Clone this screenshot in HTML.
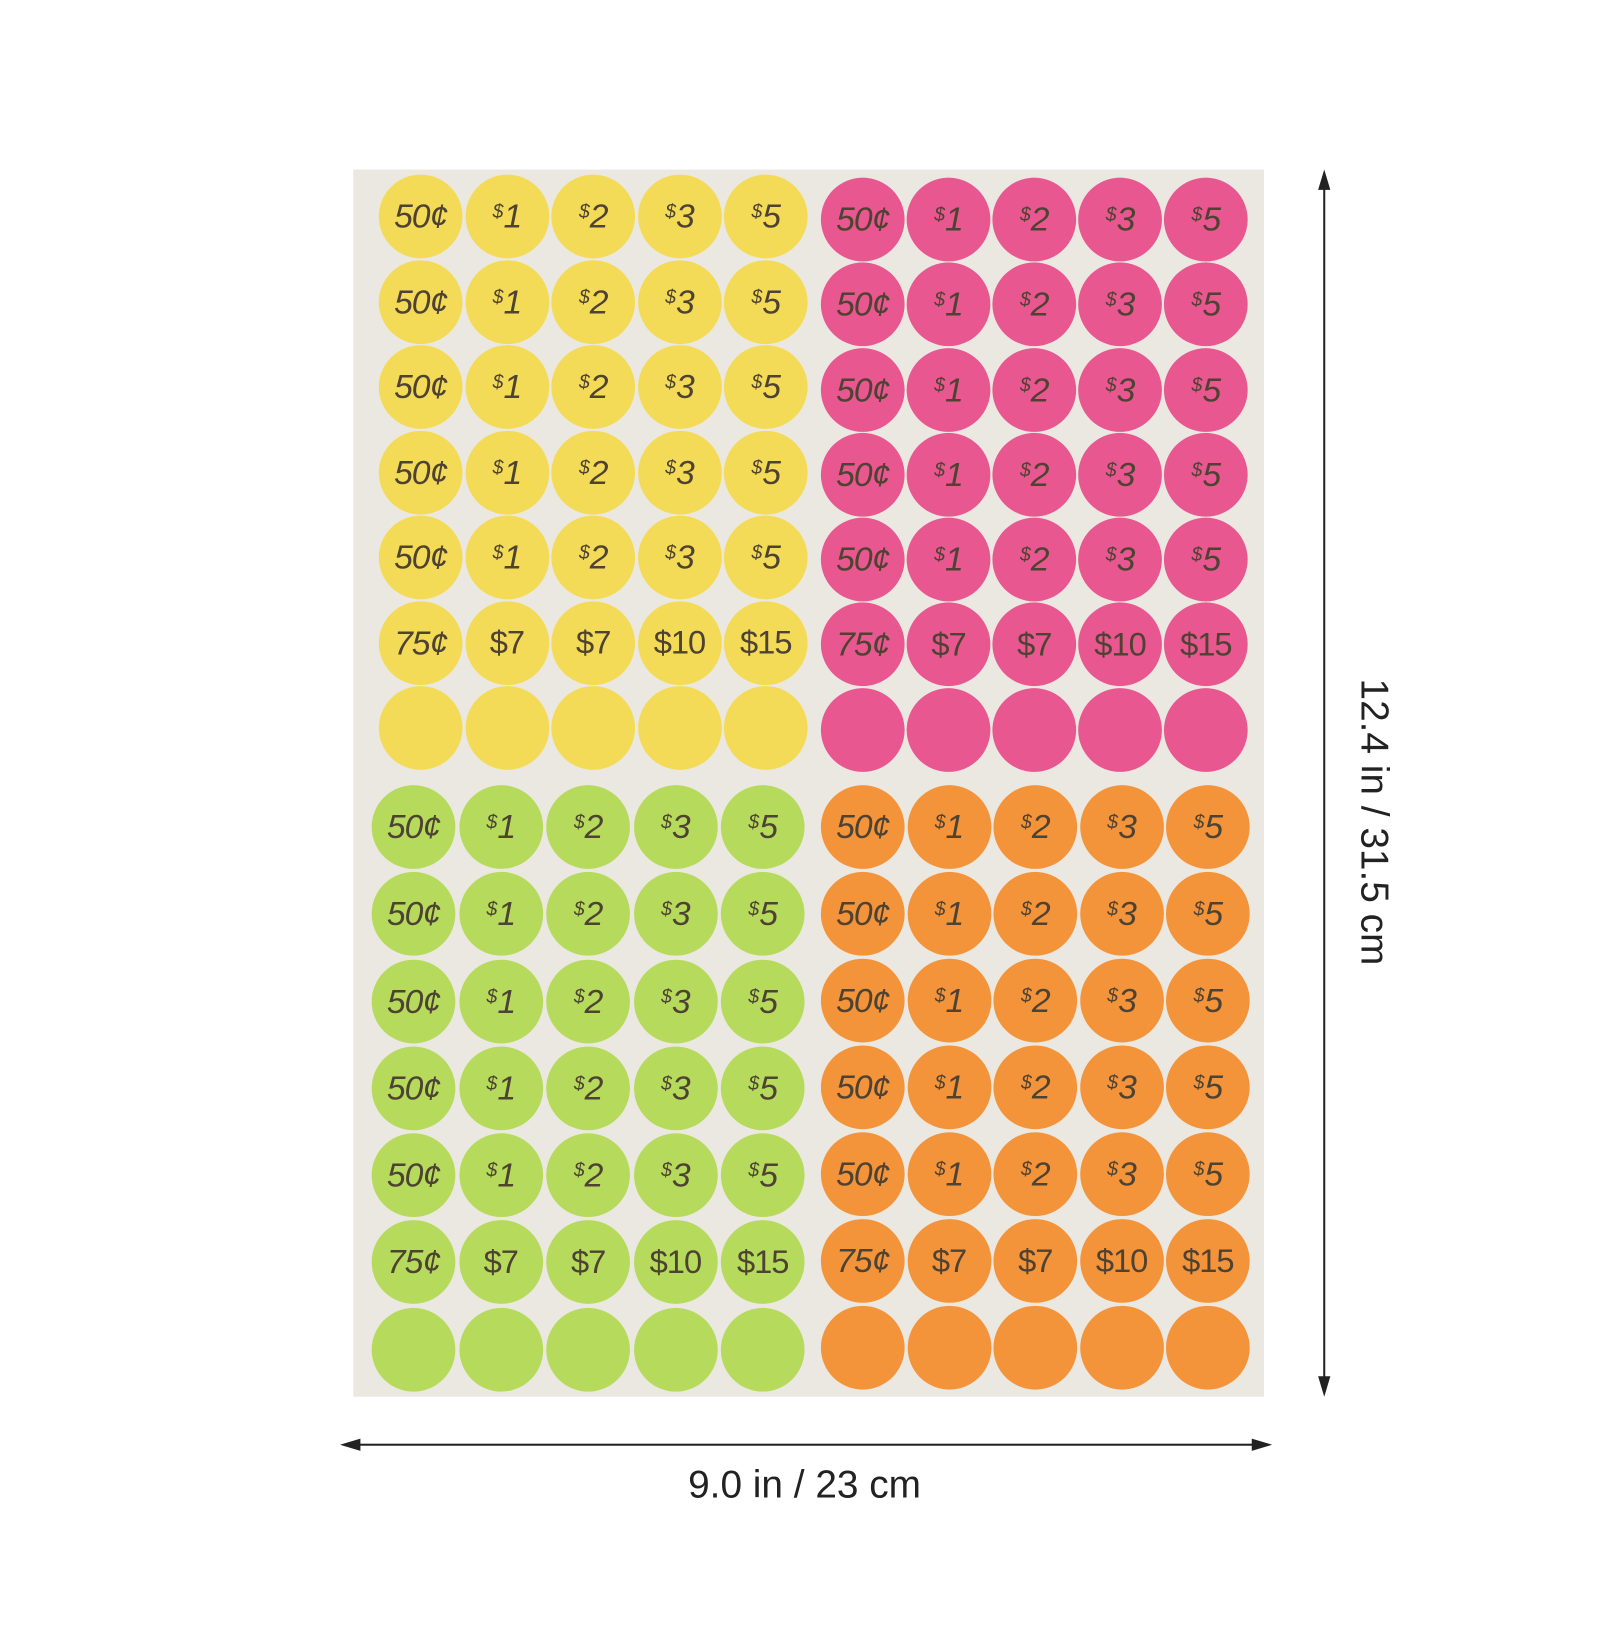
<!DOCTYPE html>
<html><head><meta charset="utf-8"><style>
html,body{margin:0;padding:0;background:#fff;}
body{width:1600px;height:1600px;position:relative;overflow:hidden;font-family:"Liberation Sans",sans-serif;}
#w{position:absolute;left:0;top:0;width:1600px;height:1600px;transform:scale(1.021);transform-origin:0 0;}
.sheet{position:absolute;left:346px;top:166px;width:892px;height:1202px;background:#ebe8e2;}
.q{position:absolute;display:grid;grid-template-columns:repeat(5,var(--px));grid-auto-rows:var(--py);}
.q span{display:flex;align-items:center;justify-content:center;width:82px;height:82px;border-radius:50%;background:var(--c);color:#4e4232;font-size:33px;font-style:italic;letter-spacing:-1px;}
.q span.n{font-style:normal;font-size:32px;}
sup{font-size:19px;position:relative;top:-4px;vertical-align:top;margin-right:1px;}
.y{--c:#f4db57;--px:84.5px;--py:83.5px;left:371px;top:171px;}
.p{--c:#e8578f;--px:84px;--py:83.3px;left:804px;top:174px;}
.g{--c:#b6db5c;--px:85.5px;--py:85.3px;left:364px;top:769px;}
.o{--c:#f4943a;--px:84.5px;--py:85px;left:804px;top:769px;}
.vl{position:absolute;left:1296px;top:172px;width:2px;height:1192px;background:#222;}
.hl{position:absolute;left:337px;top:1414px;width:905px;height:2px;background:#222;}
.lbl{position:absolute;font-size:38px;color:#222;}
</style></head><body><div id="w">
<div class="sheet"></div>

<div class="q y">
<span>50¢</span><span><sup>$</sup>1</span><span><sup>$</sup>2</span><span><sup>$</sup>3</span><span><sup>$</sup>5</span>
<span>50¢</span><span><sup>$</sup>1</span><span><sup>$</sup>2</span><span><sup>$</sup>3</span><span><sup>$</sup>5</span>
<span>50¢</span><span><sup>$</sup>1</span><span><sup>$</sup>2</span><span><sup>$</sup>3</span><span><sup>$</sup>5</span>
<span>50¢</span><span><sup>$</sup>1</span><span><sup>$</sup>2</span><span><sup>$</sup>3</span><span><sup>$</sup>5</span>
<span>50¢</span><span><sup>$</sup>1</span><span><sup>$</sup>2</span><span><sup>$</sup>3</span><span><sup>$</sup>5</span>
<span>75¢</span><span class="n">$7</span><span class="n">$7</span><span class="n">$10</span><span class="n">$15</span>
<span></span><span></span><span></span><span></span><span></span>
</div>

<div class="q p">
<span>50¢</span><span><sup>$</sup>1</span><span><sup>$</sup>2</span><span><sup>$</sup>3</span><span><sup>$</sup>5</span>
<span>50¢</span><span><sup>$</sup>1</span><span><sup>$</sup>2</span><span><sup>$</sup>3</span><span><sup>$</sup>5</span>
<span>50¢</span><span><sup>$</sup>1</span><span><sup>$</sup>2</span><span><sup>$</sup>3</span><span><sup>$</sup>5</span>
<span>50¢</span><span><sup>$</sup>1</span><span><sup>$</sup>2</span><span><sup>$</sup>3</span><span><sup>$</sup>5</span>
<span>50¢</span><span><sup>$</sup>1</span><span><sup>$</sup>2</span><span><sup>$</sup>3</span><span><sup>$</sup>5</span>
<span>75¢</span><span class="n">$7</span><span class="n">$7</span><span class="n">$10</span><span class="n">$15</span>
<span></span><span></span><span></span><span></span><span></span>
</div>

<div class="q g">
<span>50¢</span><span><sup>$</sup>1</span><span><sup>$</sup>2</span><span><sup>$</sup>3</span><span><sup>$</sup>5</span>
<span>50¢</span><span><sup>$</sup>1</span><span><sup>$</sup>2</span><span><sup>$</sup>3</span><span><sup>$</sup>5</span>
<span>50¢</span><span><sup>$</sup>1</span><span><sup>$</sup>2</span><span><sup>$</sup>3</span><span><sup>$</sup>5</span>
<span>50¢</span><span><sup>$</sup>1</span><span><sup>$</sup>2</span><span><sup>$</sup>3</span><span><sup>$</sup>5</span>
<span>50¢</span><span><sup>$</sup>1</span><span><sup>$</sup>2</span><span><sup>$</sup>3</span><span><sup>$</sup>5</span>
<span>75¢</span><span class="n">$7</span><span class="n">$7</span><span class="n">$10</span><span class="n">$15</span>
<span></span><span></span><span></span><span></span><span></span>
</div>

<div class="q o">
<span>50¢</span><span><sup>$</sup>1</span><span><sup>$</sup>2</span><span><sup>$</sup>3</span><span><sup>$</sup>5</span>
<span>50¢</span><span><sup>$</sup>1</span><span><sup>$</sup>2</span><span><sup>$</sup>3</span><span><sup>$</sup>5</span>
<span>50¢</span><span><sup>$</sup>1</span><span><sup>$</sup>2</span><span><sup>$</sup>3</span><span><sup>$</sup>5</span>
<span>50¢</span><span><sup>$</sup>1</span><span><sup>$</sup>2</span><span><sup>$</sup>3</span><span><sup>$</sup>5</span>
<span>50¢</span><span><sup>$</sup>1</span><span><sup>$</sup>2</span><span><sup>$</sup>3</span><span><sup>$</sup>5</span>
<span>75¢</span><span class="n">$7</span><span class="n">$7</span><span class="n">$10</span><span class="n">$15</span>
<span></span><span></span><span></span><span></span><span></span>
</div>

<div class="vl"></div>
<svg style="position:absolute;left:0;top:0" width="1600" height="1600">
<polygon points="1297,166 1291,186 1303,186" fill="#222"/>
<polygon points="1297,1368 1291,1348 1303,1348" fill="#222"/>
<polygon points="333,1415 353,1409 353,1421" fill="#222"/>
<polygon points="1246,1415 1226,1409 1226,1421" fill="#222"/>
</svg>
<div class="hl"></div>
<div class="lbl" style="left:1345px;top:805px;transform:translate(-50%,-50%) rotate(90deg);white-space:nowrap;">12.4 in / 31.5 cm</div>
<div class="lbl" style="left:788px;top:1455px;transform:translate(-50%,-50%);white-space:nowrap;">9.0 in / 23 cm</div>
</div></body></html>
